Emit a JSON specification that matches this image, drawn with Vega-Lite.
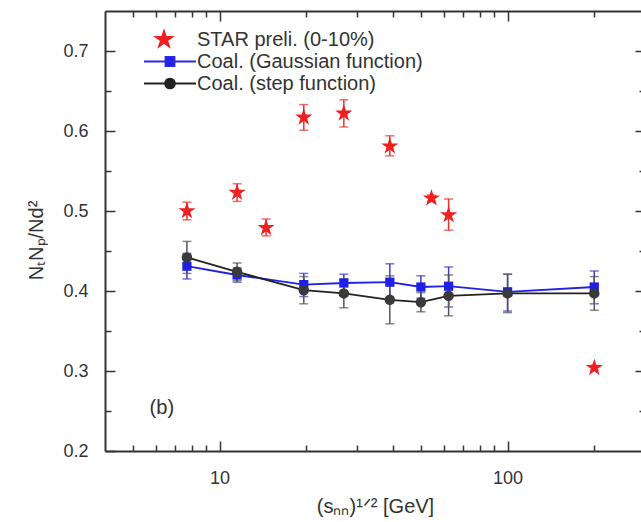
{
  "$schema": "https://vega.github.io/schema/vega-lite/v6.json",
  "autosize": "none",
  "padding": {"left": 105, "top": 11, "right": 0, "bottom": 71},
  "width": 540,
  "height": 440,
  "background": "white",
  "config": {
    "view": {"stroke": null},
    "font": "Liberation Sans",
    "axis": {
      "domainColor": "#333333",
      "domainWidth": 2,
      "ticks": true,
      "tickColor": "#333333",
      "tickWidth": 1.5,
      "grid": false,
      "labelFont": "Liberation Sans",
      "labelFontSize": 18,
      "labelColor": "#333333",
      "labelOverlap": false,
      "labelBound": false,
      "labelFlush": false,
      "titleFont": "Liberation Sans",
      "titleFontSize": 20,
      "titleFontWeight": "normal",
      "titleColor": "#333333"
    },
    "legend": {
      "labelFont": "Liberation Sans",
      "labelFontSize": 20,
      "labelColor": "#333333"
    }
  },
  "datasets": {
    "pts": [
      {"series": "STAR preli. (0-10%)", "energy": 7.7, "ratio": 0.500, "lo": 0.489, "hi": 0.511},
      {"series": "STAR preli. (0-10%)", "energy": 11.5, "ratio": 0.523, "lo": 0.512, "hi": 0.534},
      {"series": "STAR preli. (0-10%)", "energy": 14.5, "ratio": 0.479, "lo": 0.469, "hi": 0.490},
      {"series": "STAR preli. (0-10%)", "energy": 19.6, "ratio": 0.617, "lo": 0.601, "hi": 0.633},
      {"series": "STAR preli. (0-10%)", "energy": 27, "ratio": 0.622, "lo": 0.605, "hi": 0.639},
      {"series": "STAR preli. (0-10%)", "energy": 39, "ratio": 0.581, "lo": 0.569, "hi": 0.594},
      {"series": "STAR preli. (0-10%)", "energy": 54.4, "ratio": 0.516, "lo": 0.512, "hi": 0.520},
      {"series": "STAR preli. (0-10%)", "energy": 62.4, "ratio": 0.495, "lo": 0.476, "hi": 0.515},
      {"series": "STAR preli. (0-10%)", "energy": 200, "ratio": 0.304, "lo": 0.301, "hi": 0.307},
      {"series": "Coal. (Gaussian function)", "energy": 7.7, "ratio": 0.431, "lo": 0.415, "hi": 0.447},
      {"series": "Coal. (Gaussian function)", "energy": 11.5, "ratio": 0.420, "lo": 0.411, "hi": 0.429},
      {"series": "Coal. (Gaussian function)", "energy": 19.6, "ratio": 0.408, "lo": 0.393, "hi": 0.422},
      {"series": "Coal. (Gaussian function)", "energy": 27, "ratio": 0.410, "lo": 0.399, "hi": 0.421},
      {"series": "Coal. (Gaussian function)", "energy": 39, "ratio": 0.411, "lo": 0.388, "hi": 0.434},
      {"series": "Coal. (Gaussian function)", "energy": 50, "ratio": 0.405, "lo": 0.391, "hi": 0.419},
      {"series": "Coal. (Gaussian function)", "energy": 62.4, "ratio": 0.406, "lo": 0.380, "hi": 0.430},
      {"series": "Coal. (Gaussian function)", "energy": 100, "ratio": 0.399, "lo": 0.375, "hi": 0.421},
      {"series": "Coal. (Gaussian function)", "energy": 200, "ratio": 0.405, "lo": 0.384, "hi": 0.425},
      {"series": "Coal. (step function)", "energy": 7.7, "ratio": 0.442, "lo": 0.422, "hi": 0.462},
      {"series": "Coal. (step function)", "energy": 11.5, "ratio": 0.424, "lo": 0.413, "hi": 0.435},
      {"series": "Coal. (step function)", "energy": 19.6, "ratio": 0.401, "lo": 0.384, "hi": 0.418},
      {"series": "Coal. (step function)", "energy": 27, "ratio": 0.397, "lo": 0.379, "hi": 0.415},
      {"series": "Coal. (step function)", "energy": 39, "ratio": 0.389, "lo": 0.359, "hi": 0.419},
      {"series": "Coal. (step function)", "energy": 50, "ratio": 0.386, "lo": 0.374, "hi": 0.398},
      {"series": "Coal. (step function)", "energy": 62.4, "ratio": 0.394, "lo": 0.369, "hi": 0.420},
      {"series": "Coal. (step function)", "energy": 100, "ratio": 0.397, "lo": 0.373, "hi": 0.421},
      {"series": "Coal. (step function)", "energy": 200, "ratio": 0.397, "lo": 0.376, "hi": 0.418}
    ],
    "annot": [
      {"energy": 6.3, "ratio": 0.254, "label": "(b)"}
    ]
  },
  "resolve": {"axis": {"x": "independent", "y": "independent"}},
  "layer": [
    {
      "data": {"name": "pts"},
      "transform": [{"filter": "datum.series === 'STAR preli. (0-10%)'"}],
      "mark": {"type": "errorbar", "ticks": {"size": 9}, "thickness": 1.5},
      "encoding": {
        "x": {"field": "energy", "type": "quantitative", "axis": null},
        "y": {"field": "lo", "type": "quantitative", "axis": null},
        "y2": {"field": "hi"},
        "color": {"value": "#f03030"}
      }
    },
    {
      "data": {"name": "pts"},
      "transform": [{"filter": "datum.series === 'Coal. (Gaussian function)'"}],
      "mark": {"type": "errorbar", "ticks": {"size": 9}, "thickness": 1.5},
      "encoding": {
        "x": {"field": "energy", "type": "quantitative", "axis": null},
        "y": {"field": "lo", "type": "quantitative", "axis": null},
        "y2": {"field": "hi"},
        "color": {"value": "#3a3ad0"}
      }
    },
    {
      "data": {"name": "pts"},
      "transform": [{"filter": "datum.series === 'Coal. (step function)'"}],
      "mark": {"type": "errorbar", "ticks": {"size": 9}, "thickness": 1.5},
      "encoding": {
        "x": {"field": "energy", "type": "quantitative", "axis": null},
        "y": {"field": "lo", "type": "quantitative", "axis": null},
        "y2": {"field": "hi"},
        "color": {"value": "#555555"}
      }
    },
    {
      "data": {"name": "pts"},
      "transform": [{"filter": "datum.series !== 'STAR preli. (0-10%)'"}],
      "mark": {"type": "line", "strokeWidth": 1.8},
      "encoding": {
        "x": {
          "field": "energy", "type": "quantitative",
          "scale": {"type": "log", "domain": [4, 300], "nice": false},
          "axis": {
            "orient": "top", "labels": false, "title": null,
            "values": [5, 6, 7, 8, 9, 10, 20, 30, 40, 50, 60, 70, 80, 90, 100, 200],
            "ticks": true,
            "tickSize": {"condition": {"test": "datum.value === 10 || datum.value === 100", "value": -10}, "value": -6}
          }
        },
        "y": {
          "field": "ratio", "type": "quantitative",
          "scale": {"domain": [0.2, 0.75], "nice": false, "zero": false},
          "axis": {
            "orient": "right", "labels": false, "title": null,
            "values": [0.25, 0.3, 0.35, 0.4, 0.45, 0.5, 0.55, 0.6, 0.65, 0.7],
            "ticks": true,
            "tickSize": {"condition": {"test": "abs(datum.value * 10 - round(datum.value * 10)) < 0.001", "value": -10}, "value": -6}
          }
        },
        "color": {
          "field": "series", "type": "nominal",
          "scale": {
            "domain": ["Coal. (Gaussian function)", "Coal. (step function)", "STAR preli. (0-10%)"],
            "range": ["#2020e8", "#222222", "#f02020"]
          },
          "legend": null
        },
        "order": {"field": "energy"}
      }
    },
    {
      "data": {"name": "pts"},
      "transform": [{"filter": "datum.series === 'Coal. (Gaussian function)'"}],
      "mark": {"type": "point", "shape": "square", "filled": true, "size": 85, "opacity": 1, "color": "#1f1fe6"},
      "encoding": {
        "x": {"field": "energy", "type": "quantitative", "axis": null},
        "y": {"field": "ratio", "type": "quantitative", "axis": null}
      }
    },
    {
      "data": {"name": "pts"},
      "transform": [{"filter": "datum.series === 'Coal. (step function)'"}],
      "mark": {"type": "point", "shape": "circle", "filled": true, "size": 110, "opacity": 1, "color": "#3a3a3a"},
      "encoding": {
        "x": {"field": "energy", "type": "quantitative", "axis": null},
        "y": {"field": "ratio", "type": "quantitative", "axis": null}
      }
    },
    {
      "data": {"name": "pts"},
      "transform": [{"filter": "datum.series === 'STAR preli. (0-10%)'"}],
      "mark": {
        "type": "point", "filled": true, "size": 330, "opacity": 1, "color": "#f02020",
        "shape": "M0,-1L0.2245,-0.309L0.951,-0.309L0.363,0.118L0.588,0.809L0,0.382L-0.588,0.809L-0.363,0.118L-0.951,-0.309L-0.2245,-0.309Z"
      },
      "encoding": {
        "x": {
          "field": "energy", "type": "quantitative",
          "axis": {
            "orient": "bottom",
            "title": "(sₙₙ)¹ᐟ² [GeV]",
            "titleX": 270, "titleY": 55, "titleBaseline": "middle",
            "values": [5, 6, 7, 8, 9, 10, 20, 30, 40, 50, 60, 70, 80, 90, 100, 200],
            "ticks": true,
            "tickSize": {"condition": {"test": "datum.value === 10 || datum.value === 100", "value": -10}, "value": -6},
            "labelPadding": 28,
            "labelExpr": "(datum.value == 10 || datum.value == 100) ? format(datum.value, 'd') : ''"
          }
        },
        "y": {
          "field": "ratio", "type": "quantitative",
          "axis": {
            "orient": "left",
            "title": "NₜNₚ/Nd²",
            "titleX": -69, "titleY": 229, "titleBaseline": "middle", "titleAlign": "center", "titleAngle": -90,
            "values": [0.25, 0.3, 0.35, 0.4, 0.45, 0.5, 0.55, 0.6, 0.65, 0.7, 0.2],
            "ticks": true,
            "tickSize": {"condition": {"test": "abs(datum.value * 10 - round(datum.value * 10)) < 0.001", "value": -10}, "value": -6},
            "labelPadding": 27,
            "labelExpr": "abs(datum.value * 10 - round(datum.value * 10)) < 0.001 ? format(datum.value, '.1f') : ''"
          }
        }
      }
    },
    {
      "data": {"name": "pts"},
      "mark": {"type": "point", "filled": true, "size": 0, "opacity": 1, "strokeWidth": 1.8},
      "encoding": {
        "x": {"field": "energy", "type": "quantitative", "axis": null},
        "y": {"field": "ratio", "type": "quantitative", "axis": null},
        "fill": {
          "field": "series", "type": "nominal",
          "scale": {
            "domain": ["STAR preli. (0-10%)", "Coal. (Gaussian function)", "Coal. (step function)"],
            "range": ["#f02020", "#1f1fe6", "#222222"]
          },
          "legend": {
            "title": null, "orient": "none", "legendX": 38, "legendY": 18, "padding": 0,
            "symbolSize": 2704, "symbolStrokeWidth": 1.8, "symbolOpacity": 1,
            "clipHeight": 21, "rowPadding": 1, "labelOffset": 0, "labelLimit": 400
          }
        },
        "stroke": {
          "field": "series", "type": "nominal",
          "scale": {
            "domain": ["STAR preli. (0-10%)", "Coal. (Gaussian function)", "Coal. (step function)"],
            "range": ["#f02020", "#2a2ae0", "#222222"]
          },
          "legend": {
            "title": null, "orient": "none", "legendX": 38, "legendY": 18, "padding": 0,
            "symbolSize": 2704, "symbolStrokeWidth": 1.8, "symbolOpacity": 1,
            "clipHeight": 21, "rowPadding": 1, "labelOffset": 0, "labelLimit": 400
          }
        },
        "shape": {
          "field": "series", "type": "nominal",
          "scale": {
            "domain": ["STAR preli. (0-10%)", "Coal. (Gaussian function)", "Coal. (step function)"],
            "range": [
              "M-0.23,-0.33L-0.156,-0.102L0.084,-0.102L-0.11,0.039L-0.036,0.267L-0.23,0.126L-0.424,0.267L-0.35,0.039L-0.544,-0.102L-0.304,-0.102Z",
              "M-1,0H1M-0.173,-0.173H0.173V0.173H-0.173Z",
              "M-1,0H1M-0.19,0A0.19,0.19 0 1 1 0.19,0A0.19,0.19 0 1 1 -0.19,0Z"
            ]
          },
          "legend": {
            "title": null, "orient": "none", "legendX": 38, "legendY": 18, "padding": 0,
            "symbolSize": 2704, "symbolStrokeWidth": 1.8, "symbolOpacity": 1,
            "clipHeight": 21, "rowPadding": 1, "labelOffset": 0, "labelLimit": 400
          }
        }
      }
    },
    {
      "data": {"name": "annot"},
      "mark": {"type": "text", "fontSize": 20, "color": "#333333", "font": "Liberation Sans"},
      "encoding": {
        "x": {"field": "energy", "type": "quantitative", "axis": null},
        "y": {"field": "ratio", "type": "quantitative", "axis": null},
        "text": {"field": "label"}
      }
    }
  ]
}
